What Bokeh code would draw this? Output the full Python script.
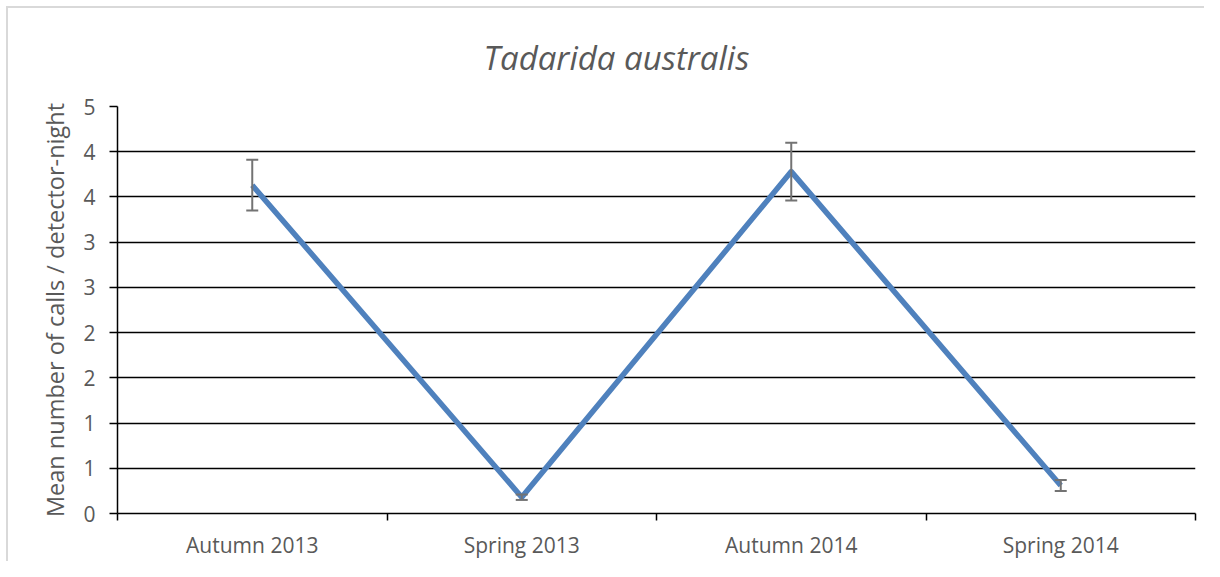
from bokeh.plotting import figure
from bokeh.models import FixedTicker, Whisker, TeeHead, ColumnDataSource, Range1d
from bokeh.embed import file_html
from bokeh.resources import INLINE

# ---- data ----
categories = ["Autumn 2013", "Spring 2013", "Autumn 2014", "Spring 2014"]
means = [3.63, 0.18, 3.78, 0.31]
errors = [0.28, 0.03, 0.32, 0.06]
y_ticks = [0, 0.5, 1, 1.5, 2, 2.5, 3, 3.5, 4, 4.5]
y_tick_labels = ["0", "1", "1", "2", "2", "3", "3", "4", "4", "5"]

title_text = "Tadarida australis"
y_title = "Mean number of calls / detector-night"

FONT = "Open Sans"
TXT = "#595959"

x_pos = [i + 0.5 for i in range(len(categories))]
src = ColumnDataSource(dict(
    x=x_pos, y=means,
    upper=[m + e for m, e in zip(means, errors)],
    lower=[m - e for m, e in zip(means, errors)],
))

p = figure(width=1204, height=561, output_backend="svg", toolbar_location=None,
           x_range=Range1d(0, len(categories)), y_range=Range1d(0, y_ticks[-1]),
           min_border_left=117, min_border_right=9, min_border_top=106, min_border_bottom=43)
p.outline_line_color = None
p.background_fill_color = "white"
p.border_fill_color = None
# light chart-area border on left/top, drawn as element background
p.styles = {
    "background": ("linear-gradient(#d9d9d9,#d9d9d9) 6px 6px / 1198px 2px no-repeat, "
                   "linear-gradient(#d9d9d9,#d9d9d9) 6px 6px / 2px 555px no-repeat, white"),
}

# title
p.title.text = title_text
p.title.align = "left"
p.title.offset = 366
p.title.text_font = FONT
p.title.text_font_style = "italic"
p.title.text_font_size = "33px"
p.title.text_color = TXT
p.title.standoff = 53

# x axis
xt = FixedTicker(ticks=x_pos, minor_ticks=list(range(len(categories) + 1)))
p.xaxis.ticker = xt
p.xaxis.major_label_overrides = {x: c for x, c in zip(x_pos, categories)}
p.xaxis.major_tick_line_color = None
p.xaxis.major_tick_out = 0
p.xaxis.major_tick_in = 0
p.xaxis.minor_tick_out = 7
p.xaxis.minor_tick_in = 0
p.xaxis.minor_tick_line_color = "black"
p.xaxis.minor_tick_line_width = 1.5
p.xaxis.axis_line_color = "black"
p.xaxis.axis_line_width = 1.5
p.xaxis.major_label_text_font = FONT
p.xaxis.major_label_text_font_size = "21px"
p.xaxis.major_label_text_color = TXT
p.xaxis.major_label_standoff = 10

# y axis
yt = FixedTicker(ticks=y_ticks, minor_ticks=[])
p.yaxis.ticker = yt
p.yaxis.major_label_overrides = {t: l for t, l in zip(y_ticks, y_tick_labels)}
p.yaxis.major_tick_out = 8
p.yaxis.major_tick_in = 0
p.yaxis.major_tick_line_color = "black"
p.yaxis.major_tick_line_width = 1.5
p.yaxis.minor_tick_line_color = None
p.yaxis.axis_line_color = "black"
p.yaxis.axis_line_width = 1.5
p.yaxis.major_label_text_font = FONT
p.yaxis.major_label_text_font_size = "21px"
p.yaxis.major_label_text_color = TXT
p.yaxis.major_label_standoff = 14
p.yaxis.axis_label = y_title
p.yaxis.axis_label_text_font = FONT
p.yaxis.axis_label_text_font_size = "23.5px"
p.yaxis.axis_label_text_font_style = "normal"
p.yaxis.axis_label_text_color = TXT
p.yaxis.axis_label_standoff = 9

# grid
p.xgrid.grid_line_color = None
p.ygrid.ticker = yt
p.ygrid.grid_line_color = "black"
p.ygrid.grid_line_width = 1.5

# line
p.line("x", "y", source=src, line_color="#4F81BD", line_width=5.5, line_join="round")

# error bars
w = Whisker(base="x", upper="upper", lower="lower", source=src, dimension="height",
            line_color="#737373", line_width=2, level="overlay",
            upper_head=TeeHead(size=12, line_color="#737373", line_width=2),
            lower_head=TeeHead(size=12, line_color="#737373", line_width=2))
p.add_layout(w)

open("out.html", "w").write(file_html(p, INLINE))
